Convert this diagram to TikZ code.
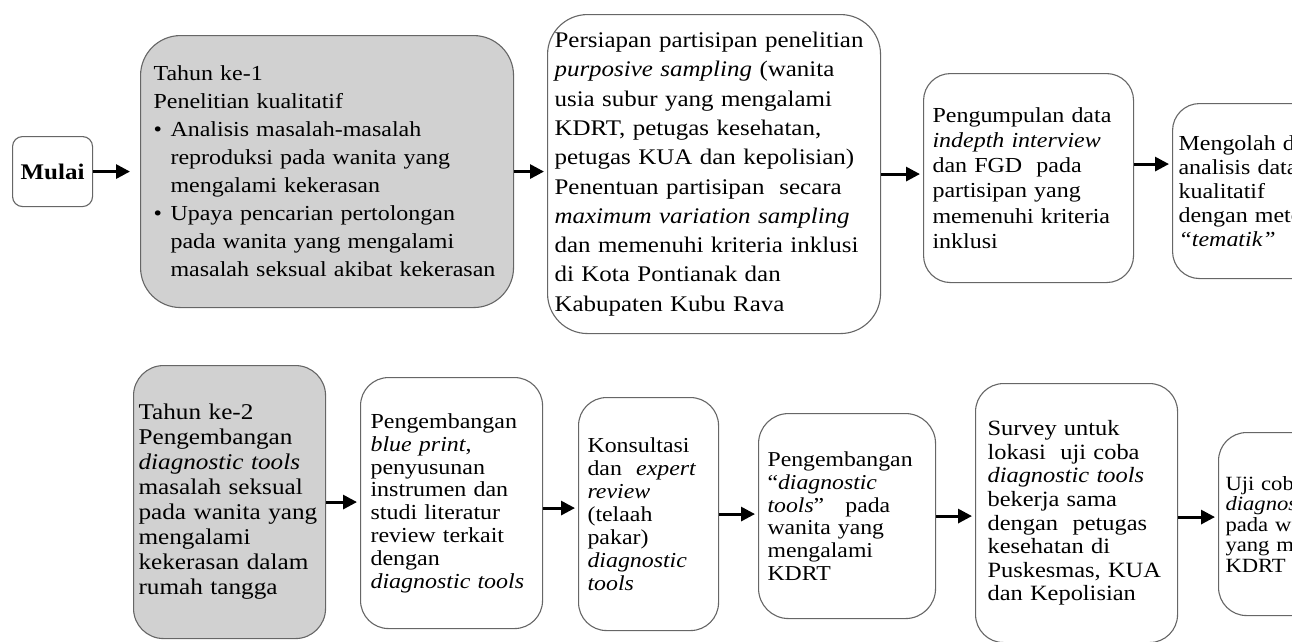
\documentclass[tikz,border=0pt]{standalone}
\usepackage{fontspec}
\setmainfont{Liberation Serif}[FakeStretch=1.12]
\usetikzlibrary{arrows.meta}
\newcommand{\fsz}[2]{\fontsize{#1}{#2}\selectfont}
\newcommand{\bul}{\makebox[17pt][l]{\textbullet}}
\newcommand{\hang}{\hspace*{17pt}}
\begin{document}
\begin{tikzpicture}[x=1pt, y=-1pt,
    stage/.style={draw=black!60, line width=1.1pt, rounded corners=#1, align=left, anchor=north west, fill=white},
    year/.style={fill=black!18},
    arr/.style={line width=3pt, -{Triangle[length=14pt,width=14pt]}, shorten >=3pt}]
  \useasboundingbox (0,0) rectangle (1292,641);
  \clip (0,0) rectangle (1292,641);
  % tahun ke-1
  \node[stage=10pt, minimum width=80pt, minimum height=70pt, font=\fsz{22.3}{26}\bfseries] (start) at (12,136) {Mulai};
  \node[stage=40pt, year, inner xsep=13pt, text width=347pt, minimum height=272pt, font=\fsz{21.4}{28}] (b1) at (140,35)
    {Tahun ke-1\\ Penelitian kualitatif\\ \bul Analisis masalah-masalah\\ \hang reproduksi pada wanita yang\\ \hang mengalami kekerasan\\
     \bul Upaya pencarian pertolongan\\ \hang pada wanita yang mengalami\\ \hang masalah seksual akibat kekerasan};
  \node[stage=40pt, inner xsep=7pt, text width=319pt, minimum height=319pt, font=\fsz{22.3}{29.3}] (b2) at (547,14)
    {Persiapan partisipan penelitian\\ \textit{purposive sampling} (wanita\\ usia subur yang mengalami\\ KDRT, petugas kesehatan,\\
     petugas KUA dan kepolisian)\\ Penentuan partisipan\ \ secara\\ \textit{maximum variation sampling}\\ dan memenuhi kriteria inklusi\\
     di Kota Pontianak dan\\ Kabupaten Kubu Rava};
  \node[stage=27pt, inner xsep=9pt, text width=192pt, minimum height=209pt, font=\fsz{21.4}{25.2}] (b3) at (923,73)
    {Pengumpulan data\\ \textit{indepth interview}\\ dan FGD\ \ pada\\ partisipan yang\\ memenuhi kriteria\\ inklusi};
  \node[stage=27pt, inner xsep=6pt, text width=228pt, minimum height=175pt, font=\fsz{21.4}{24}] (b4) at (1172,103)
    {Mengolah data dan\\ analisis data\\ kualitatif\\ dengan metode\\ \textit{“tematik”}};
  % tahun ke-2
  \node[stage=30pt, year, inner xsep=5pt, text width=182pt, minimum height=273pt, font=\fsz{22.5}{25}] (b5) at (133,365)
    {Tahun ke-2\\ Pengembangan\\ \textit{diagnostic tools}\\ masalah seksual\\ pada wanita yang\\ mengalami\\ kekerasan dalam\\ rumah tangga};
  \node[stage=28pt, inner xsep=10pt, text width=162pt, minimum height=251pt, font=\fsz{21.4}{22.8}] (b6) at (360,377)
    {Pengembangan\\ \textit{blue print},\\ penyusunan\\ instrumen dan\\ studi literatur\\ review terkait\\ dengan\\ \textit{diagnostic tools}};
  \node[stage=28pt, inner xsep=9pt, text width=122pt, minimum height=233pt, font=\fsz{21.3}{23}] (b7) at (578,397)
    {Konsultasi\\ dan\ \ \textit{expert}\\ \textit{review}\\ (telaah\\ pakar)\\ \textit{diagnostic}\\ \textit{tools}};
  \node[stage=30pt, inner xsep=9pt, text width=159pt, minimum height=205pt, font=\fsz{21.2}{22.7}] (b8) at (758,413)
    {Pengembangan\\ “\textit{diagnostic}\\ \textit{tools}”\ \ \ pada\\ wanita yang\\ mengalami\\ KDRT};
  \node[stage=28pt, inner xsep=12pt, text width=178pt, minimum height=259pt, font=\fsz{21.8}{23.6}] (b9) at (975,383)
    {Survey untuk\\ lokasi\ \ uji coba\\ \textit{diagnostic tools}\\ bekerja sama\\ dengan\ \ petugas\\ kesehatan di\\ Puskesmas, KUA\\ dan Kepolisian};
  \node[stage=28pt, inner xsep=7pt, text width=186pt, minimum height=183pt, font=\fsz{20.2}{20.5}] (b10) at (1218,432)
    {Uji coba\\ \textit{diagnostic tools}\\ pada wanita\\ yang mengalami\\ KDRT};
  % panah
  \coordinate (t3) at ([yshift=14pt]b3.east);
  \coordinate (t6) at ([yshift=-5pt]b6.east);
  \coordinate (t9) at ([yshift=-4pt]b9.east);
  \draw[arr, shorten >=10pt] (start.east) -- (start.east -| b1.west);
  \draw[arr] (b1.east) -- (b1.east -| b2.west);
  \draw[arr] (b2.east) -- (b2.east -| b3.west);
  \draw[arr] (t3) -- (t3 -| b4.west);
  \draw[arr] (b5.east) -- (b5.east -| b6.west);
  \draw[arr] (t6) -- (t6 -| b7.west);
  \draw[arr] (b7.east) -- (b7.east -| b8.west);
  \draw[arr] (b8.east) -- (b8.east -| b9.west);
  \draw[arr] (t9) -- (t9 -| b10.west);
\end{tikzpicture}
\end{document}
